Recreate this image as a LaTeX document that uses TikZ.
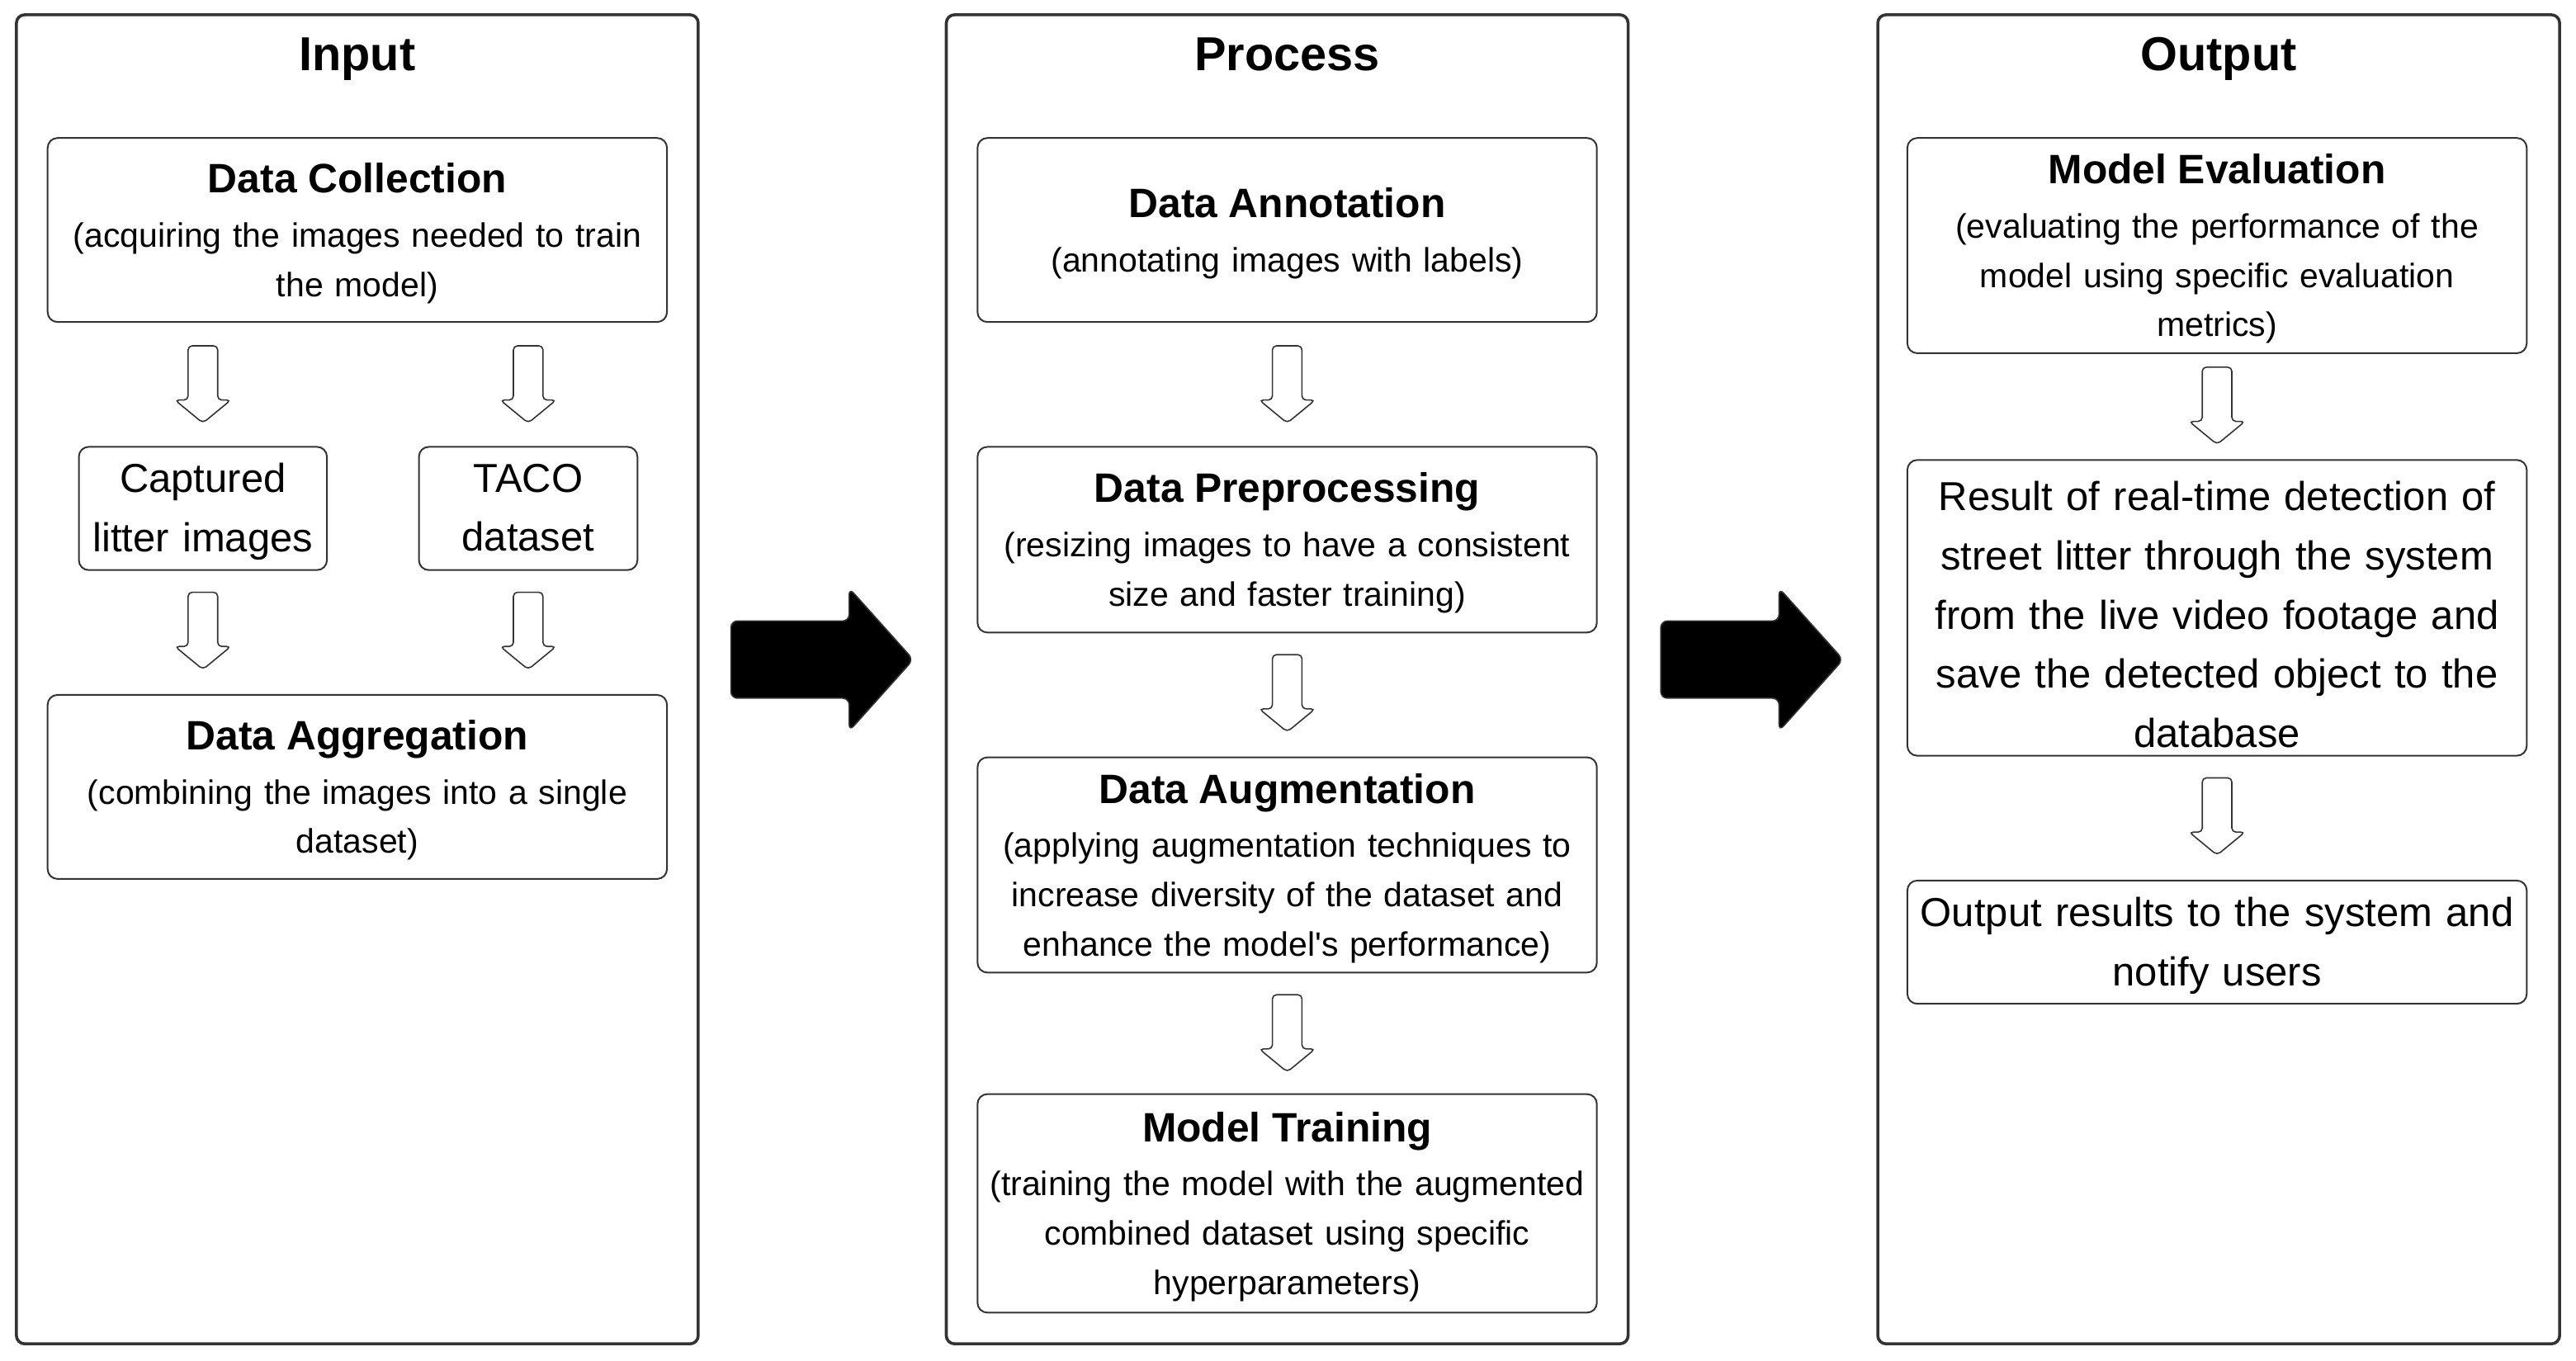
\documentclass[tikz,border=0pt]{standalone}
\usepackage{fontspec}
\setmainfont{Liberation Sans}[Ligatures=TeXOff]
\usetikzlibrary{calc}
\definecolor{edge}{HTML}{333333}
\newcommand{\bt}[1]{{\fontsize{25}{30}\selectfont\bfseries #1\par}\vspace{3pt}}
\tikzset{
  panel/.style={draw=edge, line width=1.8pt, rounded corners=5pt,
    minimum width=415pt, minimum height=809pt, inner sep=0pt},
  ptitle/.style={font=\fontsize{29}{34}\selectfont\bfseries, anchor=base, inner sep=0pt},
  stepbox/.style={draw=edge, line width=1pt, rounded corners=6pt, align=center,
    inner xsep=0pt, inner ysep=2pt, font=\fontsize{20.6}{30}\selectfont,
    execute at end node={\par\vspace{-4pt}}},
  box/.style 2 args={stepbox, text width=#1pt, minimum width=#1pt, minimum height=#2pt},
  bigtext/.style={font=\fontsize{24.6}{36}\selectfont},
  hollow/.style={draw=edge, line width=0.8pt, fill=white, rounded corners=2.5pt},
  solidarrow/.style={fill=black, draw=edge, line width=0.8pt, rounded corners=4pt},
  pics/downarrow/.style={code={
    \draw[hollow] (-9,0) -- (9,0) -- (9,33) -- (17,33) -- (0,47) -- (-17,33) -- (-9,33) -- cycle;}},
  pics/rightarrow/.style={code={
    \path[solidarrow] (0,-23.5) -- (72,-23.5) -- (72,-43.5) -- (111,0) -- (72,43.5) -- (72,23.5) -- (0,23.5) -- cycle;}},
}
\begin{document}
\begin{tikzpicture}[x=1pt,y=-1pt]
\useasboundingbox (0,0) rectangle (1568,828);
\fill[white] (0,0) rectangle (1568,828);

% panels
\node[panel] (pin)   at (217.5,413.5) {};
\node[panel] (pproc) at (783.5,413.5) {};
\node[panel] (pout)  at (1350.5,413.5) {};
\node[ptitle] (tin)   at (217.5,43) {Input};
\node[ptitle] (tproc) at (783.5,43) {Process};
\node[ptitle] (tout)  at (1350.5,43) {Output};

% input column
\node[box={377}{112}] (dc) at (217.5,140) {\bt{Data Collection}(acquiring the images needed to train\\the model)};
\node[box={151}{75}, bigtext] (cap) at (123.5,309.5) {Captured\\litter images};
\node[box={133}{75}, bigtext] (taco) at (321.5,309.5) {TACO\\dataset\rule[-5pt]{0pt}{0pt}};
\node[box={377}{112}] (agg) at (217.5,479) {\bt{Data Aggregation}(combining the images into a single\\dataset)};

% process column
\node[box={377}{112}] (ann) at (783.5,140) {\bt{Data Annotation}(annotating images with labels)};
\node[box={377}{113}] (pre) at (783.5,328.5) {\bt{Data Preprocessing}(resizing images to have a consistent\\size and faster training)};
\node[box={377}{131}] (aug) at (783.5,526.5) {\bt{Data Augmentation}(applying augmentation techniques to\\increase diversity of the dataset and\\enhance the model's performance)};
\node[box={377}{133}] (trn) at (783.5,732.5) {\bt{Model Training}(training the model with the augmented\\combined dataset using specific\\hyperparameters)};

% output column
\node[box={377}{131}] (eval) at (1349.5,149.5) {\bt{Model Evaluation}(evaluating the performance of the\\model using specific evaluation\\metrics)};
\node[box={377}{180}, bigtext] (res) at (1349.5,370) {\rule{0pt}{22pt}Result of real-time detection of\\street litter through the system\\from the live video footage and\\save the detected object to the\\database};
\node[box={377}{75}, bigtext] (outr) at (1349.5,573.5) {Output results to the system and\\notify users};

% hollow arrows
\pic at ($(dc.south -| cap.center)+(0,14)$) {downarrow};
\pic at ($(dc.south -| taco.center)+(0,14)$) {downarrow};
\pic at ($(cap.south)+(0,13)$) {downarrow};
\pic at ($(taco.south)+(0,13)$) {downarrow};
\pic at ($(ann.south)+(0,14)$) {downarrow};
\pic at ($(pre.south)+(0,13)$) {downarrow};
\pic at ($(aug.south)+(0,13)$) {downarrow};
\pic at ($(eval.south)+(0,8)$) {downarrow};
\pic at ($(res.south)+(0,13)$) {downarrow};

% big arrows between panels
\pic at ($(pin.east)+(19,-12)$) {rightarrow};
\pic at ($(pproc.east)+(19,-12)$) {rightarrow};
\end{tikzpicture}
\end{document}
